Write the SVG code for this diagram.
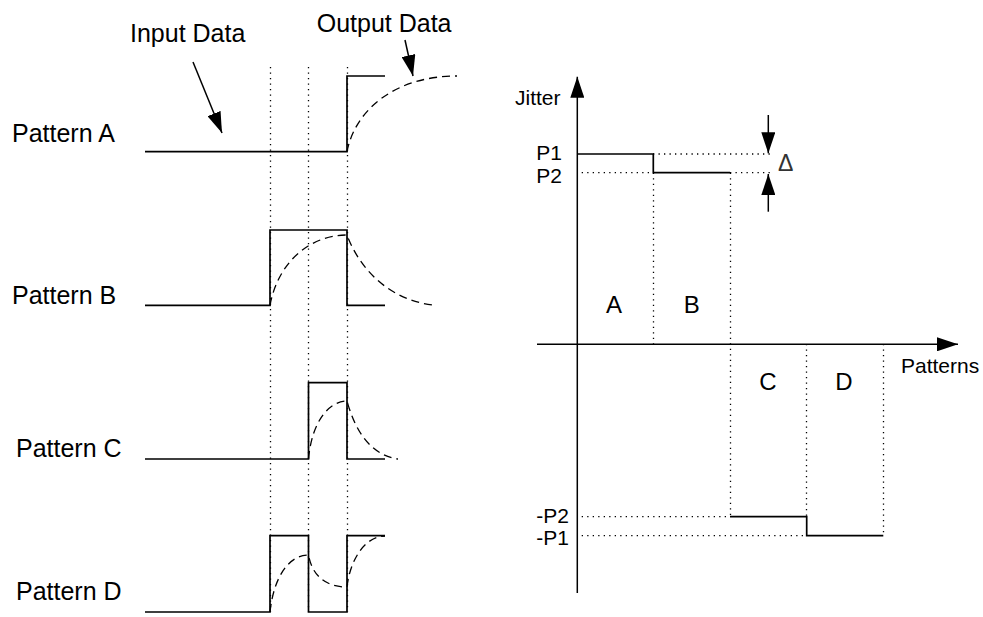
<svg xmlns="http://www.w3.org/2000/svg" width="983" height="617" viewBox="0 0 983 617">
<defs>
<marker id="ah" markerUnits="userSpaceOnUse" markerWidth="21" markerHeight="14" refX="21" refY="7" orient="auto">
<path d="M0,0 L21,7 L0,14 z" fill="#000"/>
</marker>
</defs>
<style>
.t{font-family:"Liberation Sans",Arial,sans-serif;fill:#000}
.l{font-size:25px}
.r{font-size:21px}
.s{fill:none;stroke:#000;stroke-width:1.7}
.d{fill:none;stroke:#000;stroke-width:1.3;stroke-dasharray:8 5}
.o{fill:none;stroke:#000;stroke-width:1.3;stroke-dasharray:1.3 4.2}
.a{fill:none;stroke:#000;stroke-width:1.5}
</style>
<rect width="983" height="617" fill="#fff"/>
<g id="guides">
<line class="o" x1="270.5" y1="67" x2="270.5" y2="612"/>
<line class="o" x1="308.5" y1="67" x2="308.5" y2="612"/>
<line class="o" x1="347.5" y1="67" x2="347.5" y2="612"/>
</g>
<g id="patternA">
<text class="t l" x="12" y="141.7">Pattern A</text>
<path class="s" d="M145,151.7 H347 V76 H385"/>
<path class="d" d="M347,151.7 C355,110 395,76 457,76"/>
</g>
<g id="patternB">
<text class="t l" x="12" y="304">Pattern B</text>
<path class="s" d="M145,305.3 H270 V230 H347 V305.3 H385"/>
<path class="d" d="M270,305.3 C278,262 310,235 347,235 C360,270 390,300 433,305"/>
</g>
<g id="patternC">
<text class="t l" x="16" y="456.7">Pattern C</text>
<path class="s" d="M145,459 H308.5 V382.7 H347 V459 H385"/>
<path class="d" d="M308.5,459 C312,420 330,401 347,401 C355,430 370,455 398,459"/>
</g>
<g id="patternD">
<text class="t l" x="16" y="600">Pattern D</text>
<path class="s" d="M145,612 H270 V535.7 H308.5 V612 H347 V535.7 H385"/>
<path class="d" d="M270,612 C274,575 290,555 308.5,555 C312,575 325,587 347,587 C350,560 365,536 385,536"/>
</g>
<g id="inputLabel">
<text class="t l" x="130" y="41.7">Input Data</text>
</g>
<g id="outputLabel">
<text class="t l" x="316.7" y="31.7">Output Data</text>
</g>
<g id="chart">
<text class="t r" x="515" y="105">Jitter</text>
<text class="t r" x="562" y="160" text-anchor="end">P1</text>
<text class="t r" x="562" y="182.7" text-anchor="end">P2</text>
<text class="t r" x="569" y="523" text-anchor="end">-P2</text>
<text class="t r" x="569" y="545" text-anchor="end">-P1</text>
<text class="t" font-size="24" x="614" y="313" text-anchor="middle">A</text>
<text class="t" font-size="24" x="691.7" y="313" text-anchor="middle">B</text>
<text class="t" font-size="24" x="768" y="390" text-anchor="middle">C</text>
<text class="t" font-size="24" x="844" y="390" text-anchor="middle">D</text>
<text class="t r" x="901" y="373">Patterns</text>
<text x="778" y="171" font-family="'Liberation Sans',Arial,sans-serif" font-size="23" fill="#333">Δ</text>
<line class="o" x1="653" y1="154" x2="770" y2="154"/>
<line class="o" x1="581.7" y1="172.7" x2="653" y2="172.7"/>
<line class="o" x1="730" y1="172.7" x2="773" y2="172.7"/>
<line class="o" x1="653.5" y1="172.7" x2="653.5" y2="344"/>
<line class="o" x1="730.5" y1="172.7" x2="730.5" y2="516.7"/>
<line class="o" x1="806.5" y1="344" x2="806.5" y2="516.7"/>
<line class="o" x1="883.5" y1="344" x2="883.5" y2="535.7"/>
<line class="o" x1="581.7" y1="516.7" x2="730" y2="516.7"/>
<line class="o" x1="581.7" y1="535.7" x2="806.7" y2="535.7"/>
<path class="s" d="M577.3,154 H653.3 V172.7 H730"/>
<path class="s" d="M730,516.7 H806.7 V535.7 H883.3"/>
</g>
<g id="connectors">
<line class="a" x1="577.3" y1="593" x2="577.3" y2="76.7" marker-end="url(#ah)"/>
<line class="a" x1="537" y1="344.3" x2="958" y2="344.3" marker-end="url(#ah)"/>
<line class="a" x1="193" y1="62" x2="222" y2="133" marker-end="url(#ah)"/>
<line class="a" x1="405" y1="40" x2="413" y2="76" marker-end="url(#ah)"/>
<line class="a" x1="768.3" y1="115" x2="768.3" y2="153.3" marker-end="url(#ah)"/>
<line class="a" x1="768.3" y1="211.7" x2="768.3" y2="174" marker-end="url(#ah)"/>
</g>
</svg>
